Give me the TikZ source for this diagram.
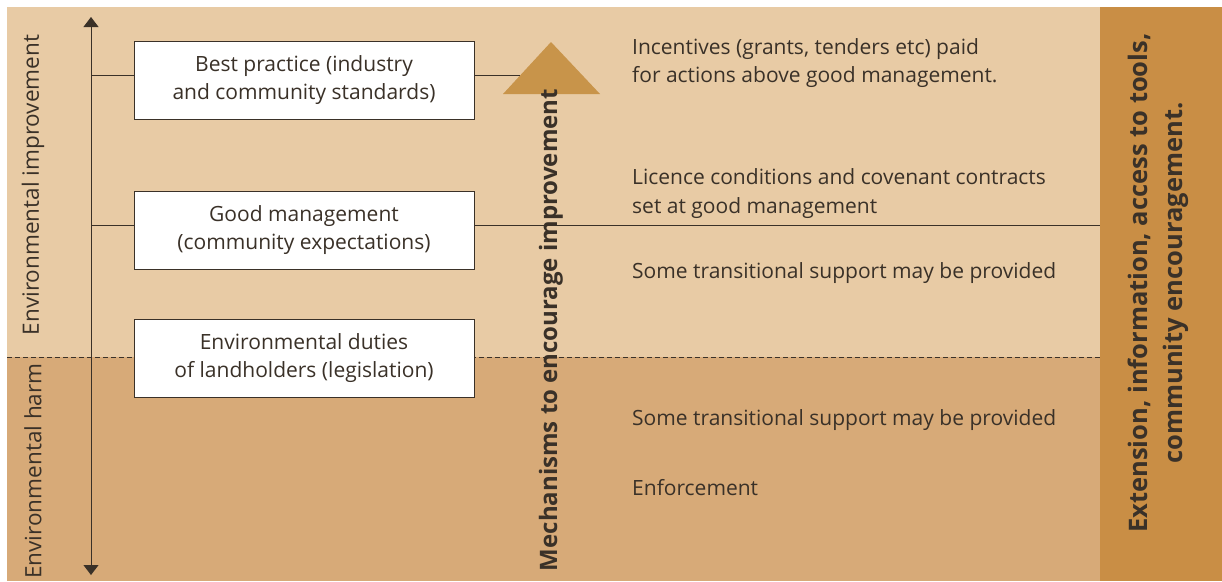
\documentclass[tikz,border=0pt]{standalone}
\usepackage{fontspec}
\setmainfont{Open Sans}
\usetikzlibrary{arrows.meta}
\definecolor{bglight}{HTML}{E8CBA5}
\definecolor{bgdark}{HTML}{D7AA78}
\definecolor{bandcol}{HTML}{C98E45}
\definecolor{tricol}{HTML}{C8944A}
\definecolor{ink}{HTML}{3A3128}
\begin{document}
\begin{tikzpicture}[x=1pt,y=-1pt,
  lvlbox/.style={draw=ink,line width=0.9pt,fill=white,minimum width=340pt,minimum height=78pt,
    align=center,font=\fontsize{21}{28}\selectfont,text=ink,inner sep=0pt},
  txt/.style={anchor=west,font=\fontsize{21}{28.5}\selectfont,text=ink,align=left,inner sep=0pt},
  side/.style={rotate=90,font=\fontsize{22.5}{26}\selectfont,text=ink,inner sep=0pt},
  boldside/.style={rotate=90,font=\bfseries\fontsize{24}{34}\selectfont,text=ink,inner sep=0pt,align=center},
  link/.style={draw=ink,line width=0.9pt}]
\useasboundingbox (0,0) rectangle (1222,581);
\fill[white] (0,0) rectangle (1222,581);
% background zones
\fill[bglight] (7,7) rectangle (1100,357);
\fill[bgdark] (7,357) rectangle (1100,581);
\fill[bandcol] (1100,7) rectangle (1222,581);
% zone boundary
\coordinate (dl) at (7,357);
\coordinate (dr) at (1100,357);
\draw[ink,line width=0.8pt,dash pattern=on 5pt off 3pt] (dl) -- (dr);
% vertical axis
\coordinate (atop) at (91,17);
\coordinate (abot) at (91,575);
\draw[ink,line width=1pt,{Triangle[width=15pt,length=10pt]}-{Triangle[width=15pt,length=10pt]}] (atop) -- (abot);
% level boxes
\node[lvlbox] (best) at (304,80) {Best practice (industry\\and community standards)};
\node[lvlbox] (good) at (304,230.5) {Good management\\(community expectations)};
\node[lvlbox] (duty) at (304,358) {Environmental duties\\of landholders (legislation)};
% triangle
\coordinate (tapex) at (551,42);
\coordinate (tl) at (503,94);
\coordinate (tr) at (600,94);
\fill[tricol] (tapex) -- (tr) -- (tl) -- cycle;
% connectors
\coordinate (a1) at (91,75);
\coordinate (a2) at (91,225);
\coordinate (t1) at (520,75);
\coordinate (e2) at (1100,225);
\draw[link] (a1) -- (a1 -| best.west);
\draw[link] (a1 -| best.east) -- (t1);
\draw[link] (a2) -- (a2 -| good.west);
\draw[link] (a2 -| good.east) -- (e2);
% axis labels
\node[side] (imp) at (33,185) {Environmental improvement};
\node[side] (harm) at (33,471) {Environmental harm};
\node[boldside] (mech) at (551,330) {Mechanisms to encourage improvement};
\node[boldside,font=\bfseries\fontsize{25.5}{35}\selectfont] (ext) at (1158,283) {Extension, information, access to tools,\\community encouragement.};
% mechanism texts
\node[txt] (inc) at (632,63) {Incentives (grants, tenders etc) paid\\for actions above good management.};
\node[txt] (lic) at (632,193.5) {Licence conditions and covenant contracts\\set at good management};
\node[txt] (ts1) at (632,273) {Some transitional support may be provided};
\node[txt] (ts2) at (632,420) {Some transitional support may be provided};
\node[txt] (enf) at (632,488) {Enforcement};
\end{tikzpicture}
\end{document}
